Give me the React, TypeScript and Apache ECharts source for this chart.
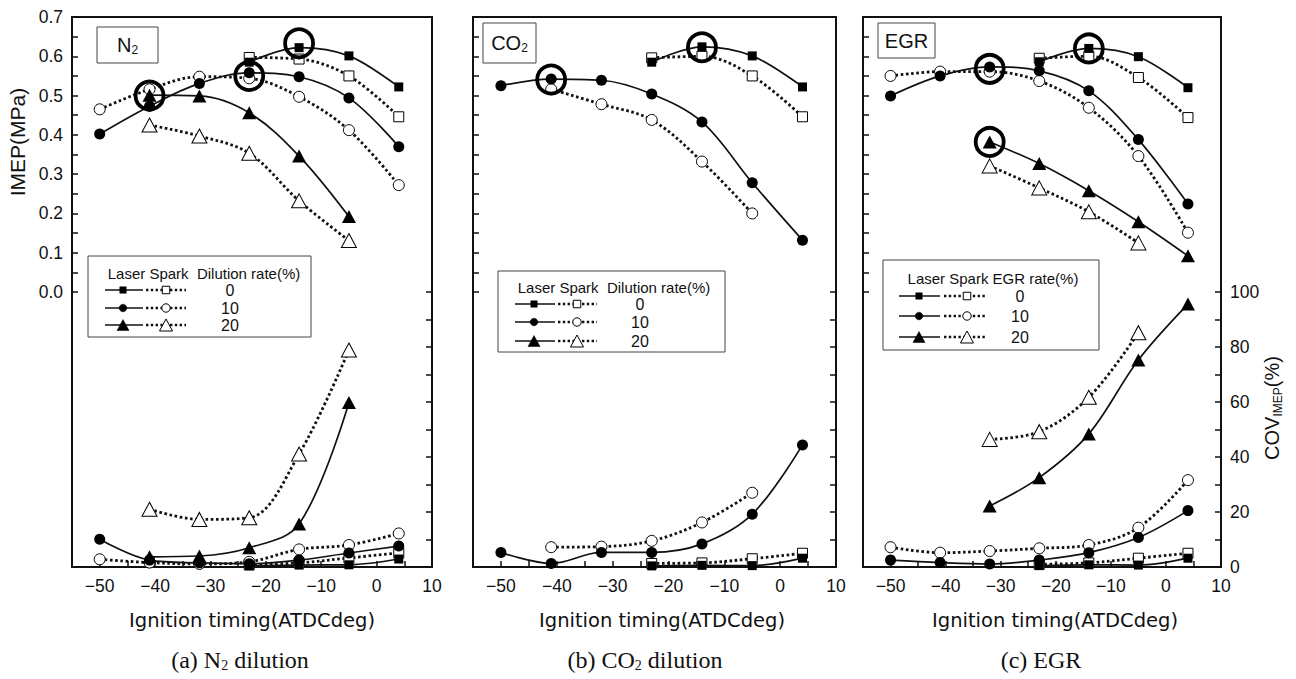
import React, { useEffect, useRef } from "react";
import * as echarts from "echarts";

// ---------- data ----------
const timings = [-50, -41, -32, -23, -14, -5, 4];

// (a) N2 dilution
const imepA_L0 = [null, null, null, 0.585, 0.622, 0.601, 0.522];
const imepA_S0 = [null, null, null, 0.597, 0.593, 0.55, 0.446];
const imepA_L10 = [0.402, 0.473, 0.531, 0.558, 0.548, 0.494, 0.37];
const imepA_S10 = [0.465, 0.516, 0.548, 0.544, 0.497, 0.412, 0.272];
const imepA_L20 = [null, 0.501, 0.499, 0.456, 0.346, 0.192, null];
const imepA_S20 = [null, 0.425, 0.397, 0.353, 0.232, 0.131, null];
const covA_L0 = [null, null, null, 0.4, 0.7, 0.8, 2.9];
const covA_S0 = [null, null, null, 0.8, 1.5, 3.3, 5.1];
const covA_L10 = [10.1, 2.5, 1.5, 1.2, 2.5, 5.1, 7.6];
const covA_S10 = [2.8, 1.6, 1.1, 1.9, 6.4, 8.0, 12.2];
const covA_L20 = [null, 3.7, 4.0, 7.0, 15.6, 59.8, null];
const covA_S20 = [null, 21.0, 17.3, 17.9, 41.1, 78.9, null];
const bestA = [[-41, 0.5], [-23, 0.55], [-14, 0.633]];

// (b) CO2 dilution
const imepB_L0 = [null, null, null, 0.585, 0.624, 0.601, 0.522];
const imepB_S0 = [null, null, null, 0.596, 0.6, 0.55, 0.446];
const imepB_L10 = [0.525, 0.542, 0.539, 0.504, 0.433, 0.278, 0.132];
const imepB_S10 = [null, 0.516, 0.478, 0.438, 0.332, 0.2, null];
const covB_L0 = [null, null, null, 0.4, 0.6, 0.5, 3.2];
const covB_S0 = [null, null, null, 1.3, 1.5, 3.0, 5.0];
const covB_L10 = [5.3, 1.3, 5.3, 5.3, 8.4, 19.2, 44.4];
const covB_S10 = [null, 7.2, 7.4, 9.5, 16.2, 27.0, null];
const bestB = [[-41, 0.541], [-14, 0.623]];

// (c) EGR
const imepC_L0 = [null, null, null, 0.586, 0.62, 0.599, 0.52];
const imepC_S0 = [null, null, null, 0.595, 0.6, 0.546, 0.444];
const imepC_L10 = [0.499, 0.55, 0.573, 0.563, 0.512, 0.388, 0.224];
const imepC_S10 = [0.55, 0.561, 0.561, 0.537, 0.469, 0.346, 0.151];
const imepC_L20 = [null, null, 0.382, 0.327, 0.258, 0.179, 0.092];
const imepC_S20 = [null, null, 0.321, 0.265, 0.204, 0.125, null];
const covC_L0 = [null, null, null, 0.5, 0.8, 0.7, 3.2];
const covC_S0 = [null, null, null, 1.0, 1.5, 3.2, 5.0];
const covC_L10 = [2.5, 1.6, 1.1, 2.5, 5.2, 10.7, 20.5];
const covC_S10 = [7.2, 5.2, 5.8, 6.8, 8.0, 14.3, 31.6];
const covC_L20 = [null, null, 22.2, 32.5, 48.4, 75.3, 95.6];
const covC_S20 = [null, null, 46.4, 49.2, 61.7, 85.2, null];
const bestC = [[-32, 0.568], [-14, 0.62], [-32, 0.382]];

const rates = ["0", "10", "20"];
const xTicks = { min: -55, max: 10, interval: 5 };
const imepTicks = { min: 0, max: 0.7, interval: 0.05 };
const covTicks = { min: 0, max: 100, interval: 10 };

// ---------- styling ----------
const INK = "#111";
const AX_FONT = "'Liberation Sans', Arial, sans-serif";
const NAME_FONT = "'DejaVu Sans', sans-serif";
const SERIF = "'Liberation Serif', 'Times New Roman', serif";

type Sym = "rect" | "circle" | "triangle";
const symSize = (sym: Sym, laser: boolean) => {
  if (sym === "rect") return laser ? 9 : 10;
  if (sym === "circle") return laser ? 11 : 11;
  return laser ? [14, 13] : [15, 14];
};

const mkLine = (vals: (number | null)[], laser: boolean, sym: Sym, xi: number, yi: number) => ({
  type: "line",
  xAxisIndex: xi,
  yAxisIndex: yi,
  data: timings
    .map((t, i) => (vals[i] == null ? null : [t, vals[i]]))
    .filter((d) => d !== null),
  smooth: 0.35,
  symbol: sym,
  symbolSize: symSize(sym, laser),
  showAllSymbol: true,
  lineStyle: laser
    ? { color: INK, width: 1.7, type: "solid" }
    : { color: INK, width: 2.8, type: [2.6, 2.6] },
  itemStyle: laser
    ? { color: "#000", borderWidth: 0, opacity: 1 }
    : { color: "#fff", borderColor: "#000", borderWidth: 1, opacity: 1 },
  z: laser ? 3 : 2,
});

const mkBest = (pts: number[][], xi: number, yi: number) => ({
  type: "scatter",
  xAxisIndex: xi,
  yAxisIndex: yi,
  data: pts,
  symbol: "circle",
  symbolSize: 28,
  itemStyle: { color: "rgba(0,0,0,0)", borderColor: "#000", borderWidth: 3.8, opacity: 1 },
  z: 10,
});

type Spec = { vals: (number | null)[]; laser: boolean; sym: Sym };

const panels = [
  {
    left: 72,
    width: 360,
    imep: [
      { vals: imepA_L0, laser: true, sym: "rect" },
      { vals: imepA_S0, laser: false, sym: "rect" },
      { vals: imepA_L10, laser: true, sym: "circle" },
      { vals: imepA_S10, laser: false, sym: "circle" },
      { vals: imepA_L20, laser: true, sym: "triangle" },
      { vals: imepA_S20, laser: false, sym: "triangle" },
    ] as Spec[],
    cov: [
      { vals: covA_L0, laser: true, sym: "rect" },
      { vals: covA_S0, laser: false, sym: "rect" },
      { vals: covA_L10, laser: true, sym: "circle" },
      { vals: covA_S10, laser: false, sym: "circle" },
      { vals: covA_L20, laser: true, sym: "triangle" },
      { vals: covA_S20, laser: false, sym: "triangle" },
    ] as Spec[],
    best: bestA,
    imepLabels: true,
    covLabels: false,
  },
  {
    left: 473,
    width: 363,
    imep: [
      { vals: imepB_L0, laser: true, sym: "rect" },
      { vals: imepB_S0, laser: false, sym: "rect" },
      { vals: imepB_L10, laser: true, sym: "circle" },
      { vals: imepB_S10, laser: false, sym: "circle" },
    ] as Spec[],
    cov: [
      { vals: covB_L0, laser: true, sym: "rect" },
      { vals: covB_S0, laser: false, sym: "rect" },
      { vals: covB_L10, laser: true, sym: "circle" },
      { vals: covB_S10, laser: false, sym: "circle" },
    ] as Spec[],
    best: bestB,
    imepLabels: false,
    covLabels: false,
  },
  {
    left: 863,
    width: 358,
    imep: [
      { vals: imepC_L0, laser: true, sym: "rect" },
      { vals: imepC_S0, laser: false, sym: "rect" },
      { vals: imepC_L10, laser: true, sym: "circle" },
      { vals: imepC_S10, laser: false, sym: "circle" },
      { vals: imepC_L20, laser: true, sym: "triangle" },
      { vals: imepC_S20, laser: false, sym: "triangle" },
    ] as Spec[],
    cov: [
      { vals: covC_L0, laser: true, sym: "rect" },
      { vals: covC_S0, laser: false, sym: "rect" },
      { vals: covC_L10, laser: true, sym: "circle" },
      { vals: covC_S10, laser: false, sym: "circle" },
      { vals: covC_L20, laser: true, sym: "triangle" },
      { vals: covC_S20, laser: false, sym: "triangle" },
    ] as Spec[],
    best: bestC,
    imepLabels: false,
    covLabels: true,
  },
];

const TOP = 17;
const HALF = 275;

const axisLine = { show: true, onZero: false, lineStyle: { color: INK, width: 2 } };
const tickIn = { show: true, inside: true, length: 6, lineStyle: { color: INK, width: 1.5 } };
const labelStyle = { fontSize: 17.5, fontFamily: AX_FONT, color: INK };

const grids: any[] = [];
const xAxes: any[] = [];
const yAxes: any[] = [];
const series: any[] = [];

panels.forEach((p, pi) => {
  grids.push({ left: p.left, top: TOP, width: p.width, height: HALF, show: false });
  grids.push({ left: p.left, top: TOP + HALF, width: p.width, height: HALF, show: false });
  const gTop = pi * 2;
  const gBot = pi * 2 + 1;
  xAxes.push({
    gridIndex: gTop,
    type: "value",
    ...xTicks,
    position: "top",
    axisLine,
    axisTick: { show: false },
    axisLabel: { show: false },
    splitLine: { show: false },
  });
  xAxes.push({
    gridIndex: gBot,
    type: "value",
    ...xTicks,
    position: "bottom",
    axisLine,
    axisTick: tickIn,
    axisLabel: {
      ...labelStyle,
      margin: 10,
      formatter: (v: number) => (v % 10 === 0 ? (v < 0 ? "\u2212" + Math.abs(v) : String(v)) : ""),
    },
    splitLine: { show: false },
  });
  // y axes: top-left IMEP, top-right frame, bottom-left frame, bottom-right COV
  yAxes.push({
    gridIndex: gTop,
    type: "value",
    ...imepTicks,
    position: "left",
    axisLine,
    axisTick: tickIn,
    axisLabel: {
      show: p.imepLabels,
      ...labelStyle,
      margin: 9,
      formatter: (v: number) => {
        const k = Math.round(v * 100);
        return k % 10 === 0 ? (k / 100).toFixed(1) : "";
      },
    },
    splitLine: { show: false },
  });
  yAxes.push({
    gridIndex: gTop,
    type: "value",
    min: 0,
    max: 1,
    position: "right",
    axisLine,
    axisTick: { show: false },
    axisLabel: { show: false },
    splitLine: { show: false },
  });
  yAxes.push({
    gridIndex: gBot,
    type: "value",
    min: 0,
    max: 1,
    position: "left",
    axisLine,
    axisTick: { show: false },
    axisLabel: { show: false },
    splitLine: { show: false },
  });
  yAxes.push({
    gridIndex: gBot,
    type: "value",
    ...covTicks,
    position: "right",
    axisLine,
    axisTick: tickIn,
    axisLabel: {
      show: p.covLabels,
      ...labelStyle,
      margin: 9,
      formatter: (v: number) => (v % 20 === 0 ? String(v) : ""),
    },
    splitLine: { show: false },
  });
  const yImep = pi * 4;
  const yCov = pi * 4 + 3;
  p.imep.forEach((s) => series.push(mkLine(s.vals, s.laser, s.sym, gTop, yImep)));
  p.cov.forEach((s) => series.push(mkLine(s.vals, s.laser, s.sym, gBot, yCov)));
  series.push(mkBest(p.best, gTop, yImep));
});

// ---------- graphic helpers ----------
const txt = (x: number, y: number, text: string, rich: any, rotation = 0) => ({
  type: "text",
  x,
  y,
  rotation,
  z: 100,
  style: {
    text,
    fill: INK,
    align: "center",
    verticalAlign: "middle",
    textAlign: "center",
    textVerticalAlign: "middle",
    rich,
  },
});

const richSans = (size: number, sub: number, pad: number, family = AX_FONT) => ({
  m: { fontSize: size, fontFamily: family, fill: INK },
  s: { fontSize: sub, fontFamily: family, fill: INK, padding: [pad, 0, 0, 0] },
});

const marker = (sym: Sym, cx: number, cy: number, filled: boolean) => {
  const style = filled
    ? { fill: "#000", stroke: "#000", lineWidth: 0.5 }
    : { fill: "#fff", stroke: "#000", lineWidth: 1 };
  if (sym === "rect") {
    const s = filled ? 6.5 : 7.5;
    return { type: "rect", z: 102, shape: { x: cx - s / 2, y: cy - s / 2, width: s, height: s }, style };
  }
  if (sym === "circle") {
    return { type: "circle", z: 102, shape: { cx, cy, r: filled ? 3.8 : 4.2 }, style };
  }
  const w = filled ? 12 : 13;
  const h = filled ? 11 : 12;
  return {
    type: "polygon",
    z: 102,
    shape: { points: [[cx, cy - h / 2], [cx + w / 2, cy + h / 2], [cx - w / 2, cy + h / 2]] },
    style,
  };
};

const legendSyms: Sym[] = ["rect", "circle", "triangle"];

const legendBox = (cfg: any) => {
  const els: any[] = [
    {
      type: "rect",
      z: 100,
      shape: { x: cfg.box[0], y: cfg.box[1], width: cfg.box[2], height: cfg.box[3] },
      style: { fill: "#fff", stroke: "#444", lineWidth: 1 },
    },
    {
      type: "text",
      x: cfg.headX,
      y: cfg.headY,
      z: 101,
      style: {
        text: cfg.head,
        fill: INK,
        fontSize: 15,
        fontFamily: AX_FONT,
        align: "center",
        verticalAlign: "middle",
        textAlign: "center",
        textVerticalAlign: "middle",
      },
    },
  ];
  cfg.rows.forEach((y: number, i: number) => {
    els.push({
      type: "line",
      z: 101,
      shape: { x1: cfg.solid[0], y1: y, x2: cfg.solid[1], y2: y },
      style: { stroke: INK, lineWidth: 1.7 },
    });
    els.push(marker(legendSyms[i], cfg.fm, y, true));
    els.push({
      type: "line",
      z: 101,
      shape: { x1: cfg.dot[0], y1: y, x2: cfg.dot[1], y2: y },
      style: { stroke: INK, lineWidth: 2.6, lineDash: [2.4, 2.4] },
    });
    els.push(marker(legendSyms[i], cfg.hm, y, false));
    els.push({
      type: "text",
      x: cfg.numX,
      y,
      z: 101,
      style: {
        text: rates[i],
        fill: INK,
        fontSize: 16,
        fontFamily: AX_FONT,
        align: "center",
        verticalAlign: "middle",
        textAlign: "center",
        textVerticalAlign: "middle",
      },
    });
  });
  return els;
};

const tagBox = (x: number, y: number, w: number, h: number, text: string) => [
  {
    type: "rect",
    z: 100,
    shape: { x, y, width: w, height: h },
    style: { fill: "#fff", stroke: "#444", lineWidth: 1 },
  },
  txt(x + w / 2, y + h / 2, text, richSans(20, 12, 9)),
];

const graphics: any[] = [
  txt(17, 142, "{m|IMEP(MPa)}", richSans(21, 12, 9), Math.PI / 2),
  txt(1272, 408, "{m|COV}{s|IMEP}{m|(%)}", richSans(20, 12, 11), Math.PI / 2),
  txt(252, 620, "{n|Ignition timing(ATDCdeg)}", { n: { fontSize: 19.5, fontFamily: NAME_FONT, fill: INK } }),
  txt(662, 620, "{n|Ignition timing(ATDCdeg)}", { n: { fontSize: 19.5, fontFamily: NAME_FONT, fill: INK } }),
  txt(1055, 620, "{n|Ignition timing(ATDCdeg)}", { n: { fontSize: 19.5, fontFamily: NAME_FONT, fill: INK } }),
  txt(240, 660, "{m|(a) N}{s|2}{m| dilution}", richSans(24, 14, 10, SERIF)),
  txt(645, 660, "{m|(b) CO}{s|2}{m| dilution}", richSans(24, 14, 10, SERIF)),
  txt(1041, 660, "{m|(c) EGR}", richSans(24, 14, 10, SERIF)),
  ...tagBox(97, 27, 61, 36, "{m|N}{s|2}"),
  ...tagBox(483, 23, 53, 40, "{m|CO}{s|2}"),
  ...tagBox(878, 23, 57, 35, "{m|EGR}"),
  ...legendBox({
    box: [88, 256, 223, 81],
    head: "Laser Spark  Dilution rate(%)",
    headX: 204,
    headY: 273,
    rows: [290, 308, 325],
    solid: [105, 143],
    fm: 123,
    dot: [146, 186],
    hm: 166,
    numX: 230,
  }),
  ...legendBox({
    box: [498, 271, 227, 81],
    head: "Laser Spark  Dilution rate(%)",
    headX: 614,
    headY: 287,
    rows: [304, 322, 341],
    solid: [515, 555],
    fm: 534,
    dot: [558, 597],
    hm: 577,
    numX: 640,
  }),
  ...legendBox({
    box: [883, 260, 216, 90],
    head: "Laser Spark EGR rate(%)",
    headX: 993,
    headY: 278,
    rows: [296, 316, 337],
    solid: [899, 940],
    fm: 919,
    dot: [944, 985],
    hm: 967,
    numX: 1020,
  }),
];

const option = {
  animation: false,
  backgroundColor: "#fff",
  grid: grids,
  xAxis: xAxes,
  yAxis: yAxes,
  series,
  graphic: graphics,
};

export default function App() {
  const ref = useRef<HTMLDivElement>(null);
  useEffect(() => {
    document.body.style.margin = "0";
    const chart = echarts.init(ref.current!, null, { renderer: "svg" });
    chart.setOption(option as any);
    return () => chart.dispose();
  }, []);
  return <div ref={ref} style={{ width: 1296, height: 679 }} />;
}
